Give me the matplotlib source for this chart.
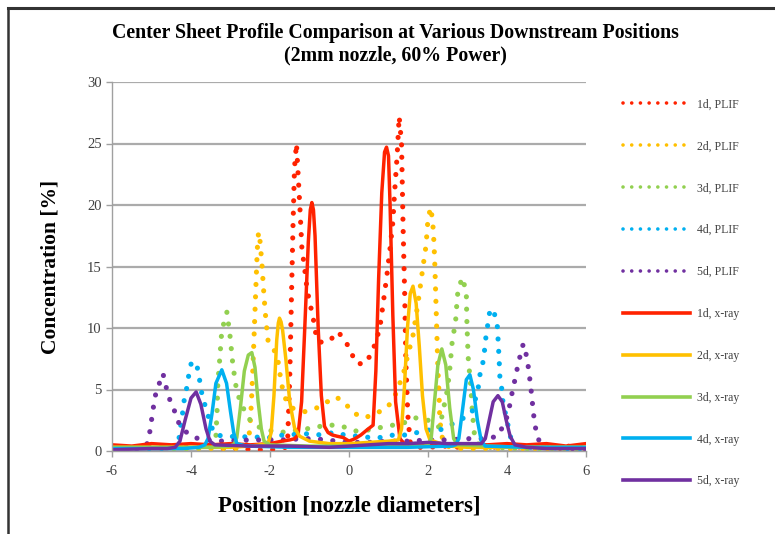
import matplotlib
matplotlib.use("Agg")
import matplotlib.pyplot as plt
from matplotlib.lines import Line2D

# (position, concentration)
plif_1d = [(-6.0, 0.4), (-5.6, 0.3), (-5.2, 0.4), (-4.8, 0.3), (-4.4, 0.4), (-4.0, 0.3),
           (-3.6, 0.3), (-3.2, 0.2), (-2.8, 0.2), (-2.4, 0.1), (-2.0, 0.1), (-1.75, 0.2),
           (-1.6, 0.3), (-1.55, 1.2), (-1.5, 6.0), (-1.46, 12.0), (-1.42, 18.0), (-1.38, 23.0),
           (-1.33, 25.0), (-1.28, 22.0), (-1.24, 19.6), (-1.19, 16.3), (-1.14, 15.3),
           (-1.06, 13.1), (-0.99, 12.0), (-0.91, 10.9), (-0.86, 9.8), (-0.78, 8.9),
           (-0.62, 8.8), (-0.48, 9.0), (-0.28, 9.7), (-0.08, 8.9), (0.05, 8.0), (0.20, 7.1),
           (0.41, 7.1), (0.58, 8.0), (0.68, 8.9), (0.78, 10.0), (0.87, 12.1), (0.96, 14.3),
           (1.04, 16.5), (1.11, 18.6), (1.15, 20.8), (1.22, 24.1), (1.27, 27.2), (1.33, 25.0),
           (1.37, 18.1), (1.41, 12.7), (1.44, 7.2), (1.49, 2.9), (1.55, 0.7), (1.7, 0.3),
           (2.0, 0.3), (2.4, 0.4), (2.8, 0.3), (3.2, 0.4), (3.6, 0.3), (4.0, 0.4), (4.4, 0.3),
           (4.8, 0.4), (5.2, 0.3), (5.6, 0.4), (6.0, 0.3)]
plif_2d = [(-6.0, 0.2), (-5.0, 0.2), (-4.0, 0.2), (-3.0, 0.2), (-2.7, 0.2), (-2.6, 0.4),
           (-2.55, 0.8), (-2.51, 1.8), (-2.47, 4.0), (-2.43, 7.0), (-2.39, 10.5), (-2.35, 14.0),
           (-2.32, 16.5), (-2.29, 17.8), (-2.25, 17.0), (-2.20, 15.0), (-2.15, 12.5),
           (-2.10, 10.5), (-2.05, 9.0), (-1.92, 8.4), (-1.80, 7.4), (-1.75, 6.3), (-1.69, 5.2),
           (-1.60, 4.2), (-1.45, 3.5), (-1.12, 3.2), (-0.82, 3.5), (-0.55, 4.0), (-0.33, 4.4),
           (-0.10, 3.9), (0.10, 3.1), (0.40, 2.7), (0.71, 3.1), (0.96, 3.5), (1.14, 4.3),
           (1.37, 6.2), (1.49, 7.8), (1.62, 9.4), (1.75, 12.1), (1.87, 14.9), (1.95, 16.7),
           (2.00, 18.9), (2.07, 19.8), (2.12, 18.6), (2.15, 17.0), (2.17, 15.4), (2.19, 13.3),
           (2.21, 11.1), (2.23, 8.9), (2.25, 6.7), (2.28, 4.6), (2.30, 2.5), (2.35, 1.2),
           (2.45, 0.4), (2.8, 0.2), (3.5, 0.2), (4.5, 0.2), (6.0, 0.2)]
plif_3d = [(-6.0, 0.2), (-5.0, 0.2), (-4.0, 0.2), (-3.6, 0.3), (-3.45, 0.5), (-3.37, 1.1),
           (-3.34, 3.3), (-3.32, 5.5), (-3.27, 7.6), (-3.22, 9.8), (-3.09, 11.3), (-3.01, 9.3),
           (-2.94, 7.0), (-2.89, 5.9), (-2.84, 4.8), (-2.71, 3.7), (-2.58, 2.9), (-2.46, 2.3),
           (-2.2, 1.8), (-1.75, 1.5), (-1.3, 1.7), (-0.86, 1.9), (-0.61, 2.1), (-0.35, 2.1),
           (-0.05, 1.9), (0.20, 1.6), (0.48, 1.7), (0.78, 1.9), (1.11, 2.1), (1.40, 2.3),
           (1.67, 2.7), (2.00, 2.5), (2.30, 1.9), (2.38, 3.3), (2.46, 4.4), (2.51, 5.5),
           (2.55, 6.6), (2.58, 7.7), (2.61, 8.8), (2.66, 9.8), (2.71, 10.9), (2.73, 12.0),
           (2.76, 13.1), (2.87, 14.1), (2.97, 12.9), (2.98, 11.0), (3.00, 9.0), (3.02, 7.5),
           (3.05, 6.4), (3.08, 5.4), (3.12, 3.3), (3.17, 1.5), (3.25, 0.6), (3.5, 0.3),
           (4.5, 0.2), (6.0, 0.2)]
plif_4d = [(-6.0, 0.2), (-5.0, 0.2), (-4.6, 0.2), (-4.4, 0.3), (-4.32, 0.6), (-4.27, 1.9),
           (-4.22, 2.9), (-4.18, 4.0), (-4.11, 5.1), (-4.05, 6.3), (-3.99, 7.2), (-3.87, 7.2),
           (-3.80, 6.2), (-3.75, 5.0), (-3.67, 4.0), (-3.59, 3.1), (-3.49, 2.1), (-3.42, 1.4),
           (-3.2, 1.2), (-2.0, 1.1), (-1.67, 1.3), (-1.04, 1.4), (-0.68, 1.3), (-0.40, 1.5),
           (-0.10, 1.3), (0.53, 1.1), (0.84, 1.1), (1.12, 1.3), (1.50, 1.3), (1.72, 1.5),
           (1.97, 1.7), (2.30, 1.7), (2.81, 2.5), (3.11, 3.1), (3.19, 4.1), (3.27, 5.1),
           (3.32, 6.3), (3.39, 7.2), (3.44, 8.4), (3.47, 9.4), (3.52, 10.4), (3.57, 11.5),
           (3.65, 11.5), (3.75, 10.4), (3.77, 9.3), (3.80, 7.5), (3.82, 6.0), (3.87, 5.0),
           (3.90, 3.9), (4.0, 2.5), (4.08, 1.2), (4.2, 0.5), (4.5, 0.3), (5.0, 0.3),
           (5.5, 0.2), (6.0, 0.2)]
plif_5d = [(-6.0, 0.1), (-5.6, 0.1), (-5.3, 0.2), (-5.18, 0.3), (-5.12, 0.5), (-5.05, 1.4),
           (-5.0, 2.5), (-4.95, 3.6), (-4.89, 4.7), (-4.79, 5.6), (-4.71, 6.3), (-4.63, 5.2),
           (-4.53, 4.1), (-4.41, 3.2), (-4.30, 2.2), (-4.08, 1.4), (-3.82, 1.0), (-3.3, 0.8),
           (-2.5, 0.9), (-1.7, 0.9), (-1.17, 1.0), (-0.91, 1.0), (-0.56, 0.9), (-0.30, 0.8),
           (0.0, 0.7), (0.5, 0.7), (1.0, 0.8), (1.5, 0.8), (2.0, 0.9), (2.5, 0.9), (3.0, 1.0),
           (3.50, 1.0), (3.75, 1.2), (3.90, 2.0), (4.03, 3.0), (4.10, 4.3), (4.17, 5.3),
           (4.23, 6.3), (4.31, 7.4), (4.38, 8.5), (4.43, 8.7), (4.50, 7.6), (4.55, 6.6),
           (4.59, 5.5), (4.63, 4.4), (4.66, 3.3), (4.70, 2.3), (4.76, 1.2), (4.85, 0.6),
           (5.0, 0.3), (5.5, 0.2), (6.0, 0.2)]

xray_1d = [(-6.0, 0.5), (-5.5, 0.4), (-5.0, 0.6), (-4.5, 0.5), (-4.0, 0.6), (-3.5, 0.5),
           (-3.0, 0.6), (-2.5, 0.5), (-2.0, 0.6), (-1.7, 0.8), (-1.5, 0.9), (-1.38, 1.0),
           (-1.29, 1.3), (-1.2, 4.0), (-1.12, 10.0), (-1.03, 17.0), (-0.98, 19.6), (-0.94, 20.2),
           (-0.90, 19.6), (-0.86, 17.5), (-0.78, 10.0), (-0.70, 4.5), (-0.62, 2.0), (-0.53, 1.5),
           (-0.42, 1.3), (-0.3, 1.2), (-0.15, 1.1), (0.0, 0.8), (0.15, 1.0), (0.3, 1.3),
           (0.45, 1.7), (0.61, 2.1), (0.68, 6.5), (0.75, 14.0), (0.83, 21.0), (0.90, 24.3),
           (0.95, 24.7), (1.00, 24.0), (1.04, 20.0), (1.11, 11.0), (1.18, 4.0), (1.29, 1.0),
           (1.4, 0.6), (1.6, 0.5), (2.0, 0.6), (2.5, 0.5), (3.0, 0.6), (3.5, 0.5), (4.0, 0.6),
           (4.5, 0.5), (5.0, 0.6), (5.5, 0.4), (6.0, 0.6)]
xray_2d = [(-6.0, 0.3), (-5.0, 0.3), (-4.0, 0.3), (-3.0, 0.3), (-2.5, 0.4), (-2.05, 0.6),
           (-1.97, 1.5), (-1.90, 4.5), (-1.83, 9.0), (-1.79, 10.4), (-1.76, 10.8), (-1.72, 10.5),
           (-1.68, 9.8), (-1.60, 7.5), (-1.50, 4.0), (-1.38, 1.9), (-1.25, 1.2), (-1.0, 0.8),
           (-0.5, 0.6), (0.0, 0.6), (0.5, 0.7), (1.0, 0.8), (1.25, 0.9), (1.33, 1.8),
           (1.40, 5.0), (1.48, 10.0), (1.55, 12.8), (1.62, 13.4), (1.70, 12.0), (1.78, 8.5),
           (1.86, 4.5), (1.95, 1.8), (2.05, 0.9), (2.5, 0.4), (3.0, 0.3), (4.0, 0.3),
           (5.0, 0.3), (6.0, 0.3)]
xray_3d = [(-6.0, 0.3), (-5.0, 0.3), (-4.0, 0.3), (-3.5, 0.3), (-3.0, 0.4), (-2.90, 0.6),
           (-2.84, 1.1), (-2.75, 3.5), (-2.65, 6.5), (-2.55, 7.8), (-2.46, 8.0), (-2.38, 6.8),
           (-2.30, 4.0), (-2.22, 1.8), (-2.15, 0.8), (-2.0, 0.5), (-1.0, 0.4), (0.0, 0.4),
           (1.0, 0.4), (1.9, 0.4), (2.0, 0.5), (2.08, 1.0), (2.15, 3.5), (2.25, 7.0),
           (2.35, 8.3), (2.45, 7.0), (2.55, 3.5), (2.65, 1.0), (2.75, 0.5), (3.5, 0.4),
           (4.5, 0.3), (6.0, 0.3)]
xray_4d = [(-6.0, 0.2), (-5.0, 0.2), (-4.2, 0.2), (-3.8, 0.3), (-3.65, 0.5), (-3.57, 1.0),
           (-3.47, 3.0), (-3.37, 5.5), (-3.22, 6.6), (-3.10, 5.5), (-3.0, 3.2), (-2.92, 1.5),
           (-2.84, 0.6), (-2.6, 0.4), (-1.5, 0.3), (0.0, 0.3), (1.5, 0.3), (2.6, 0.4),
           (2.70, 0.5), (2.78, 1.0), (2.88, 3.5), (2.97, 5.8), (3.06, 6.2), (3.15, 5.0),
           (3.25, 2.5), (3.35, 0.8), (3.45, 0.4), (4.5, 0.3), (6.0, 0.3)]
xray_5d = [(-6.0, 0.1), (-5.0, 0.2), (-4.6, 0.2), (-4.40, 0.3), (-4.28, 0.8), (-4.15, 2.5),
           (-4.0, 4.3), (-3.87, 4.8), (-3.75, 3.8), (-3.62, 1.8), (-3.52, 0.8), (-3.4, 0.5),
           (-2.5, 0.4), (-1.5, 0.4), (-0.5, 0.3), (0.0, 0.4), (0.5, 0.5), (1.0, 0.6), (1.5, 0.6),
           (2.0, 0.7), (2.5, 0.6), (3.0, 0.6), (3.35, 0.6), (3.45, 1.0), (3.55, 2.5), (3.65, 4.0),
           (3.77, 4.5), (3.88, 4.0), (3.98, 2.5), (4.08, 1.2), (4.2, 0.5), (4.5, 0.3), (5.0, 0.2),
           (6.0, 0.2)]

labels = ["1d", "2d", "3d", "4d", "5d"]
colors = ["#FF2200", "#FFC000", "#92D050", "#00B0F0", "#7030A0"]
plif = [plif_1d, plif_2d, plif_3d, plif_4d, plif_5d]
xray = [xray_1d, xray_2d, xray_3d, xray_4d, xray_5d]

SERIF = ["Liberation Serif", "DejaVu Serif"]
DOTS = (0, (0.01, 2.4))
plt.rcParams["axes.unicode_minus"] = False

fig = plt.figure(figsize=(7.75, 5.34), dpi=100)
ax = fig.add_axes([112 / 775, 1 - 451 / 534, 474 / 775, 369 / 534])

for pts, c in zip(plif, colors):
    xs, ys = zip(*pts)
    ax.plot(xs, ys, color=c, lw=3.7, linestyle=DOTS, dash_capstyle="round")
for pts, c in zip(xray, colors):
    xs, ys = zip(*pts)
    ax.plot(xs, ys, color=c, lw=2.5, solid_joinstyle="round")

ax.set_xlim(-6, 6)
ax.set_ylim(0, 30)
ax.set_xticks(range(-6, 7, 2))
ax.set_yticks(range(0, 31, 5))
ax.yaxis.grid(True, color="#ABABAB", lw=1.6)
ax.set_axisbelow(True)
for s in ("top", "right"):
    ax.spines[s].set_visible(False)
for s in ("left", "bottom"):
    ax.spines[s].set_color("#A0A0A0")
    ax.spines[s].set_linewidth(1.0)
ax.tick_params(colors="#A0A0A0", labelcolor="#404040", length=4, width=1.0,
               labelsize=10.5)
ax.tick_params(axis="x", pad=6)
for lab in ax.get_xticklabels() + ax.get_yticklabels():
    lab.set_family(SERIF)

ax.set_xlabel("Position [nozzle diameters]", family=SERIF, fontsize=16.5,
              fontweight="bold", labelpad=13)
ax.set_ylabel("Concentration [%]", family=SERIF, fontsize=15.5,
              fontweight="bold", labelpad=19)

fig.text(0.51, 0.956, "Center Sheet Profile Comparison at Various Downstream Positions\n"
         "(2mm nozzle, 60% Power)", ha="center", va="top", family=SERIF,
         fontsize=14.3, fontweight="bold", linespacing=1.15)

handles = [Line2D([], [], color=c, lw=2.6, linestyle=DOTS, dash_capstyle="round")
           for c in colors]
handles += [Line2D([], [], color=c, lw=2.6) for c in colors]
names = [f"{d}, PLIF" for d in labels] + [f"{d}, x-ray" for d in labels]
leg = fig.legend(handles, names, loc="upper left", bbox_to_anchor=(612 / 775, 1 - 88 / 534),
                 frameon=False, prop={"family": SERIF, "size": 8.5}, handlelength=5.7,
                 labelspacing=2.53, handletextpad=0.6)
for t in leg.get_texts():
    t.set_color("#404040")

# dark frame along the top and left edges of the screenshot
fig.add_artist(Line2D([8 / 775, 1], [1 - 8 / 534, 1 - 8 / 534], transform=fig.transFigure,
                      color="#333333", lw=2.2))
fig.add_artist(Line2D([8 / 775, 8 / 775], [0, 1 - 8 / 534], transform=fig.transFigure,
                      color="#333333", lw=1.8))

fig.savefig("out.png", dpi=100)
